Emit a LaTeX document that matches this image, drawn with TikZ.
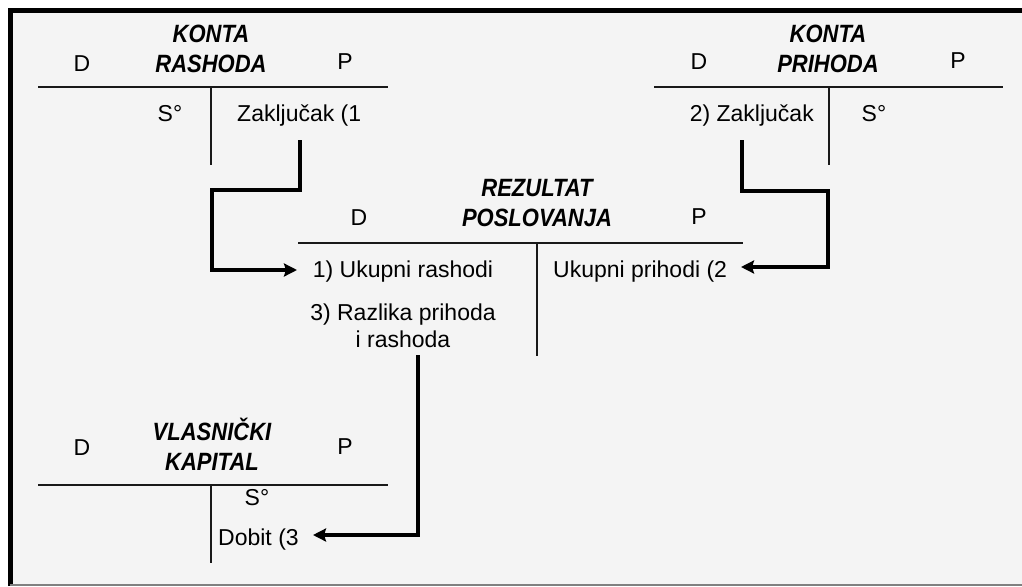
\documentclass[tikz,border=0pt]{standalone}
\usepackage{fontspec}
\setmainfont{Liberation Sans}
\usetikzlibrary{arrows.meta}
\definecolor{bgcol}{HTML}{F4F4F4}
\newcommand{\ttlnarrow}[1]{\scalebox{0.88}[1]{#1}}
\begin{document}
\begin{tikzpicture}[x=1pt,y=-1pt,
  txt/.style={inner sep=0pt,anchor=base,font=\fontsize{23}{27}\selectfont},
  ttl/.style={txt,font=\fontsize{25}{29}\selectfont\bfseries\itshape},
  tline/.style={line width=2pt,black!90},
  conn/.style={line width=4.5pt,black,-{Stealth[length=13pt,width=13pt,inset=2pt]}},
  ]
\useasboundingbox (0,0) rectangle (1022,586);
\fill[white] (0,0) rectangle (1022,586);
\fill[bgcol] (10,11) rectangle (1024,584);
\draw[line width=5pt] (10,586) -- (10,11) -- (1024,11);
\draw[line width=2pt,black!50] (10,584.5) -- (1024,584.5);

% Konta rashoda
\node[ttl] (k1a) at (211,43) {\ttlnarrow{KONTA}};
\node[ttl] (k1b) at (211,73) {\ttlnarrow{RASHODA}};
\node[txt] (k1d) at (82,71) {D};
\node[txt] (k1p) at (345,70) {P};
\draw[tline] (38,87) -- (388,87);
\draw[tline] (211,87) -- (211,165);
\node[txt] (k1s) at (170,121) {S°};
\node[txt,anchor=base west] (k1z) at (237,121) {Zaključak (1};

% Konta prihoda
\node[ttl] (k2a) at (828,43) {\ttlnarrow{KONTA}};
\node[ttl] (k2b) at (828,73) {\ttlnarrow{PRIHODA}};
\node[txt] (k2d) at (699,70) {D};
\node[txt] (k2p) at (958,68) {P};
\draw[tline] (654,87) -- (1003,87);
\draw[tline] (829,87) -- (829,165);
\node[txt,anchor=base east] (k2z) at (814,121) {2) Zaključak};
\node[txt] (k2s) at (874,121) {S°};

% Rezultat poslovanja
\node[ttl] (r1a) at (537,196) {\ttlnarrow{REZULTAT}};
\node[ttl] (r1b) at (537,226) {\ttlnarrow{POSLOVANJA}};
\node[txt] (r1d) at (359,225) {D};
\node[txt] (r1p) at (699,224) {P};
\draw[tline] (298,243) -- (743,243);
\draw[tline] (537,243) -- (537,356);
\node[txt] (ur) at (403,277) {1) Ukupni rashodi};
\node[txt,anchor=base west] (up) at (553,277) {Ukupni prihodi (2};
\node[txt] (rz1) at (403,320) {3) Razlika prihoda};
\node[txt] (rz2) at (403,347) {i rashoda};

% Vlasnicki kapital
\node[ttl] (v1a) at (212,440) {\ttlnarrow{VLASNIČKI}};
\node[ttl] (v1b) at (212,470) {\ttlnarrow{KAPITAL}};
\node[txt] (v1d) at (82,455) {D};
\node[txt] (v1p) at (345,454) {P};
\draw[tline] (38,485) -- (388,485);
\draw[tline] (211,485) -- (211,563);
\node[txt] (v1s) at (257,505) {S°};
\node[txt,anchor=base west] (db) at (218,545) {Dobit (3};

% connectors
\coordinate (a1s) at (300,140);
\coordinate (a1m) at (212,190);
\coordinate (a1e) at (297,270);
\draw[conn] (a1s) -- (a1s |- a1m) -- (a1m) -- (a1m |- a1e) -- (a1e);

\coordinate (a2s) at (742,140);
\coordinate (a2m) at (828,191);
\coordinate (a2e) at (741,267);
\draw[conn] (a2s) -- (a2s |- a2m) -- (a2m) -- (a2m |- a2e) -- (a2e);

\coordinate (a3s) at (418,355);
\coordinate (a3e) at (313,535);
\draw[conn] (a3s) -- (a3s |- a3e) -- (a3e);
\end{tikzpicture}
\end{document}
